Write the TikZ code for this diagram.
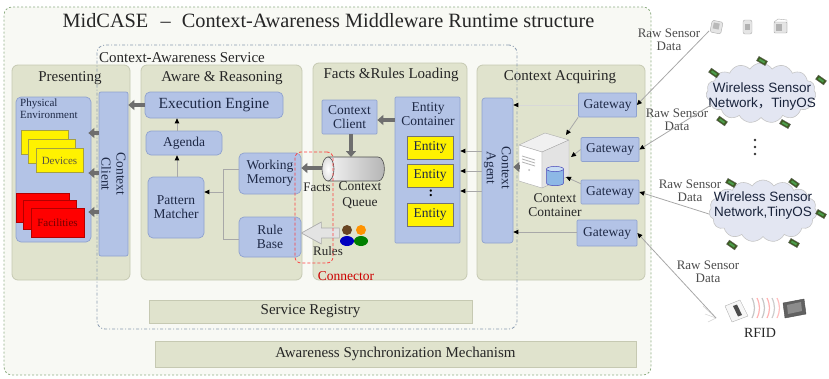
\documentclass[tikz,border=0pt]{standalone}
\usepackage{fontspec}
\setmainfont{Liberation Serif}
\newfontfamily\sansf{Liberation Sans}
\newfontfamily\cjk{Noto Sans CJK SC}
\usetikzlibrary{arrows.meta,shapes.geometric,shapes.symbols,calc}

\definecolor{panelfill}{HTML}{E0E3CD}
\definecolor{paneldraw}{HTML}{C6C9B2}
\definecolor{boxfill}{HTML}{B3C3E6}
\definecolor{boxdraw}{HTML}{8FA2CE}
\definecolor{boxtext}{HTML}{1E2946}
\definecolor{arrowgray}{HTML}{6E6E6E}
\definecolor{linegray}{HTML}{A8A8A8}
\definecolor{outerdash}{HTML}{8FAE84}
\definecolor{innerdash}{HTML}{8C9DB2}
\definecolor{bgfill}{HTML}{F8F9F4}
\definecolor{cloudfill}{HTML}{E3E6F2}
\definecolor{motegreen}{HTML}{3F5B22}
\definecolor{darktext}{HTML}{262626}
\definecolor{dbblue}{HTML}{8DB8E6}
\definecolor{dbtop}{HTML}{C9DDF3}

\tikzset{
  fnt/.style 2 args={font=\fontsize{#1}{#2}\selectfont},
  panel/.style={draw=paneldraw, fill=panelfill, rounded corners=6pt, line width=0.8pt, inner sep=0pt},
  ptitle/.style={fnt={15}{17}, text=darktext, inner sep=0pt},
  bluebox/.style={draw=boxdraw, fill=boxfill, rounded corners=3pt, text=boxtext, align=center,
                  inner sep=0pt, line width=0.7pt, fnt={13.5}{14}},
  gatebox/.style={bluebox, rounded corners=1pt, minimum width=58pt, minimum height=24pt},
  entitybox/.style={draw=black!55, fill=yellow, text=boxtext, inner sep=0pt, line width=0.6pt,
                    minimum width=46pt, minimum height=23pt, fnt={13.5}{14}},
  devbox/.style={draw=yellow!60!black, fill=yellow, line width=0.5pt, inner sep=0pt,
                 minimum width=47pt, minimum height=24pt, text=yellow!25!black, fnt={11}{12}},
  facbox/.style={draw=red!70!black, fill=red, line width=0.5pt, inner sep=0pt,
                 minimum width=53pt, minimum height=29pt, text=red!45!black, fnt={11}{12}},
  regbar/.style={draw=paneldraw, fill=panelfill, line width=0.8pt, inner sep=0pt,
                 text=darktext, fnt={15}{17}},
  rawlbl/.style={align=center, text=black!70, fnt={13}{13}, inner sep=0pt},
  wsntext/.style={align=center, text=boxtext!85!black, font=\sansf\fontsize{13.5}{15}\selectfont, inner sep=0pt},
  fat/.style={draw=arrowgray, line width=3.5pt, -{Triangle[length=6pt,width=10pt]}},
  tarrow/.style={draw=linegray, line width=0.8pt, -{Triangle[length=5pt,width=4.5pt,color=black]}},
  mote/.pic={\filldraw[fill=motegreen, draw=black!60, line width=0.3pt] (-5,-2.5) rectangle (5,2.5);
             \fill[green!45!black!70] (-3,-1) rectangle (3,1);}
}

\begin{document}
\begin{tikzpicture}[x=1pt,y=-1pt]
\useasboundingbox (0,0) rectangle (829,378);

% ---- middleware frame ----
\node[draw=outerdash, dash pattern=on 2pt off 2pt, line width=0.8pt, fill=bgfill, rounded corners=8pt,
      minimum width=647pt, minimum height=368pt, inner sep=0pt] (outer) at (327.5,191) {};
\node[fnt={20.3}{24}, text=darktext, inner sep=0pt] (title) at (328.5,21)
  {MidCASE\hspace{0.6em}--\hspace{0.55em}Context-Awareness Middleware Runtime structure};

% ---- layer panels ----
\node[panel, minimum width=118pt, minimum height=215pt] (pPres) at (71,172.5) {};
\node[panel, minimum width=161pt, minimum height=215pt] (pAware) at (221.5,172.5) {};
\node[panel, minimum width=154pt, minimum height=217pt] (pFacts) at (390,171.5) {};
\node[panel, minimum width=168pt, minimum height=215pt] (pAcq) at (561,172.5) {};
\node[ptitle] (tPres) at (70,78) {Presenting};
\node[ptitle] (tAware) at (222,78) {Aware \& Reasoning};
\node[ptitle] (tFacts) at (391,75) {Facts \&Rules Loading};
\node[ptitle] (tAcq) at (560,77) {Context Acquiring};

% ---- common services ----
\node[regbar, minimum width=323pt, minimum height=23pt] (sreg) at (310.5,311.5) {Service Registry};
\node[regbar, minimum width=481pt, minimum height=26pt] (asm) at (395.5,354) {Awareness Synchronization Mechanism};

% ---- context-awareness service boundary ----
\node[draw=innerdash, dash pattern=on 3pt off 2pt on 1pt off 2pt, line width=0.8pt, rounded corners=8pt,
      minimum width=420pt, minimum height=284pt, inner sep=0pt] (cas) at (307,187) {};
\node[anchor=west, fnt={15}{17}, text=darktext, inner sep=0pt] (castitle) at (99,58) {Context-Awareness Service};

% ---- Presenting ----
\node[bluebox, rounded corners=5pt, minimum width=75pt, minimum height=145pt] (penv) at (53.5,169.5) {};
\node[anchor=north west, align=left, fnt={11}{12}, text=boxtext, inner sep=0pt] (penvlbl) at (20,99) {Physical\\Environment};
\node[devbox] (dev1) at (44.5,142) {};
\node[devbox] (dev2) at (52,151) {};
\node[devbox] (dev3) at (59.5,160.5) {Devices};
\node[facbox] (fac1) at (43,207.5) {};
\node[facbox] (fac2) at (50,215) {};
\node[facbox] (fac3) at (57.5,222.5) {Facilities};
\node[bluebox, rounded corners=2pt, minimum width=29pt, minimum height=164pt] (ccP) at (113.5,174) {};
\node[rotate=-90, align=center, text=boxtext, fnt={13.5}{15}, inner sep=0pt] (ccPlbl) at (ccP) {Context\\Client};

% ---- Aware & Reasoning ----
\node[bluebox, rounded corners=5pt, minimum width=138pt, minimum height=26pt, fnt={15.5}{17}] (ee) at (214,105) {Execution Engine};
\node[bluebox, rounded corners=5pt, minimum width=76pt, minimum height=24pt] (agenda) at (184,143) {Agenda};
\node[bluebox, rounded corners=5pt, minimum width=56pt, minimum height=61pt] (pm) at (176,207.5) {Pattern\\Matcher};
\node[bluebox, rounded corners=5pt, minimum width=62pt, minimum height=41pt] (wm) at (270,173.5) {Working\\Memory};
\node[bluebox, rounded corners=5pt, minimum width=62pt, minimum height=40pt] (rb) at (270,237) {Rule\\Base};

% ---- Facts & Rules Loading ----
\node[bluebox, rounded corners=1pt, minimum width=55pt, minimum height=34pt] (cc2) at (349.5,117) {Context\\Client};
\node[bluebox, rounded corners=1pt, minimum width=65pt, minimum height=146pt] (ec) at (427.5,170) {};
\node[align=center, text=boxtext, fnt={13.5}{14}, inner sep=0pt] (eclbl) at (428,114.5) {Entity\\Container};
\node[entitybox] (ent1) at (430,147.5) {Entity};
\node[entitybox] (ent2) at (430,175.5) {Entity};
\node[fnt={14}{14}, inner sep=0pt] (edots) at (431,193.5) {\textbf{:}};
\node[entitybox] (ent3) at (430,214.5) {Entity};
% context queue: a horizontal cylinder, open face on the left
\node[inner sep=0pt, minimum width=62pt, minimum height=24pt] (queue) at (353,169) {};
\shade[left color=gray!10, right color=gray!60, draw=gray!60!black, line width=0.6pt]
  (328,157) -- (378,157) .. controls (386.5,157) and (386.5,181) .. (378,181) -- (328,181) -- cycle;
\shade[inner color=white, outer color=gray!25, draw=gray!60!black, line width=0.6pt] (328,169) ellipse (6 and 12);
\node[text=darktext, fnt={13}{14}, inner sep=0pt] (factslbl) at (317,187) {Facts};
\node[align=center, text=darktext, fnt={13.5}{16}, inner sep=0pt] (queuelbl) at (360,195) {Context\\Queue};
\node[text=darktext, fnt={13}{14}, inner sep=0pt] (ruleslbl) at (328,251) {Rules};
% knowledge engineers supplying the rules
\node[inner sep=0pt, minimum width=32pt, minimum height=22pt] (people) at (355,235) {};
\fill[green!50!black] (361,241) ellipse (7 and 5);
\fill[orange!85!yellow] (361,230) circle (5);
\fill[blue!75!black] (347,241) ellipse (7 and 5);
\fill[brown!55!black] (347,230) circle (5);

% ---- Context Acquiring ----
\node[bluebox, rounded corners=3pt, minimum width=31pt, minimum height=145pt] (ca) at (497.5,170.5) {};
\node[rotate=-90, align=center, text=boxtext, fnt={13.5}{15}, inner sep=0pt] (calbl) at (497.5,168) {Context\\Agent};
\node[gatebox] (g1) at (607.5,105) {Gateway};
\node[gatebox] (g2) at (610,149.5) {Gateway};
\node[gatebox] (g3) at (610,192) {Gateway};
\node[gatebox, minimum width=60pt, minimum height=26pt] (g4) at (607,233) {Gateway};
% context container: server with its store
\node[inner sep=0pt, minimum width=50pt, minimum height=58pt] (server) at (544,159) {};
\filldraw[draw=gray!65, fill=gray!12, line join=round] (519,145) -- (545,133) -- (569,140) -- (542,152) -- cycle;
\filldraw[draw=gray!65, fill=white, line join=round] (519,145) -- (542,152) -- (542,188) -- (519,181) -- cycle;
\filldraw[draw=gray!65, fill=gray!22, line join=round] (542,152) -- (569,140) -- (569,176) -- (542,188) -- cycle;
\foreach \k in {0,1,2} \draw[gray!60, line width=0.8pt] (522,156+\k*3) -- (535,160+\k*3);
\fill[gray!55] (529,170) circle (1);
\node[inner sep=0pt, minimum width=17pt, minimum height=18pt] (db) at (555,176) {};
\filldraw[fill=dbblue, draw=blue!45!gray, line width=0.5pt]
  (546.5,169) -- (546.5,183) .. controls (546.5,186.5) and (563.5,186.5) .. (563.5,183) -- (563.5,169) -- cycle;
\filldraw[fill=dbtop, draw=blue!45!gray, line width=0.5pt] (555,169) ellipse (8.5 and 2.6);
\node[align=center, text=darktext, fnt={13.5}{14}, inner sep=0pt] (srvlbl) at (555,205) {Context\\Container};
\coordinate (srvTop) at (566,135);
\coordinate (srvSide) at (571,157);
\coordinate (dbIn) at (566,177);

% ---- internal connectors ----
\draw[fat] (ee.west) -- (ee.west -| ccP.east);
\foreach \yy in {133,173,212} \draw[fat] (ccP.west |- 0,\yy) -- ($(penv.east |- 0,\yy)+(-3,0)$);
\draw[tarrow] (agenda.north -| 177,0) -- (ee.south -| 177,0);
\draw[tarrow] (pm.north -| 177,0) -- (agenda.south -| 177,0);
\draw[linegray, line width=0.8pt] (wm.west |- 0,169) -- (223,169) -- (223,239) -- (rb.west |- 0,239);
\coordinate (merge) at (223,192);
\draw[tarrow] (merge) -- (merge -| pm.east);
\draw[fat] (ec.west |- 0,120) -- (cc2.east |- 0,120);
\draw[fat] (cc2.south -| 351,0) -- (351,157);
\draw[fat] (queue.west |- 0,168) -- (wm.east |- 0,168);
\draw[draw=gray!65, fill=gray!22, line join=round, line width=0.7pt]
  (rb.east |- 0,233) -- ++(20,-11) -- ++(0,6) -- ++(18,0) -- ++(0,10) -- ++(-18,0) -- ++(0,6) -- cycle;
\foreach \yy in {151,171,191} \draw[tarrow] (ca.west |- 0,\yy) -- (ec.east |- 0,\yy);
\draw[tarrow, draw=linegray!45] (g1.west) -- (g1.west -| ca.east);
\draw[tarrow] (g4.west |- 0,232) -- (ca.east |- 0,232);
\draw[tarrow] (g1.south west) -- (srvTop);
\draw[tarrow] (g2.west) -- (srvSide);
\draw[tarrow] ($(g3.north west)+(0,4)$) -- (dbIn);
\draw[fat] (server.west |- 0,167) -- (ca.east |- 0,167);

% ---- connector boundary ----
\node[draw=red!75, dash pattern=on 3pt off 2pt, rounded corners=6pt, line width=0.8pt,
      minimum width=38pt, minimum height=111pt, inner sep=0pt] (conn) at (314,207.5) {};
\node[text=red!80!black, fnt={13.5}{14}, inner sep=0pt] (connlbl) at (346,276) {Connector};

% ---- sensing side ----
% sensor devices
\node[inner sep=0pt, minimum width=78pt, minimum height=14pt] (sensors) at (749,27) {};
\filldraw[fill=gray!20, draw=gray!65, rounded corners=1.5pt, rotate around={-12:(716,27)}] (711,21) rectangle (722,33);
\fill[gray!55, rotate around={-12:(716,27)}] (713,23) rectangle (719,29);
\filldraw[fill=gray!20, draw=gray!65, rounded corners=2pt] (743,20) rectangle (752,34);
\fill[gray!60] (745,24) rectangle (750,30);
\filldraw[fill=gray!20, draw=gray!65, rounded corners=1pt] (774,22) rectangle (787,33);
\fill[gray!60] (776,24) rectangle (782,31);
\draw[gray!65] (774,22) -- (778,19) -- (787,20) -- (787,33);
\coordinate (s1) at (709,31);

% wireless sensor networks
\node[cloud, cloud puffs=15, cloud puff arc=115, aspect=1.8, draw=gray!45, fill=cloudfill, line width=0.6pt,
      minimum width=110pt, minimum height=60pt, inner sep=0pt] (wsn1) at (761,93) {};
\node[wsntext] (wsn1lbl) at (762,96.5) {Wireless Sensor\\Network{\cjk ，}TinyOS};
\node[cloud, cloud puffs=15, cloud puff arc=115, aspect=1.8, draw=gray!45, fill=cloudfill, line width=0.6pt,
      minimum width=108pt, minimum height=62pt, inner sep=0pt] (wsn2) at (763,211) {};
\node[wsntext] (wsn2lbl) at (763,206) {Wireless Sensor\\Network,TinyOS};
\foreach \mx/\my/\ma in {762/61/-30, 714/73/-35, 821/80/-35, 722/121/-35, 785/124/-30,
                         731/183/-30, 794/183/-35, 821/214/-30, 732/245/-35, 794/243/-30}
  \pic[rotate=\ma] at (\mx,\my) {mote};
\foreach \yy in {140,147,154} \fill[black!80] (755,\yy) circle (1.4);
\coordinate (c1in) at (711,105);
\coordinate (c2in) at (709,214);

% RFID reader and tag
\node[inner sep=0pt, minimum width=85pt, minimum height=24pt] (rfid) at (765,310) {};
\filldraw[fill=gray!6, draw=gray!60, line join=round] (725,306) -- (740,300) -- (748,316) -- (732,322) -- cycle;
\fill[black!70] (733,306) -- (737,304.5) -- (742,315) -- (738,316.5) -- cycle;
\foreach \i/\c in {0/gray!45, 1/red!30, 2/gray!45, 3/red!30, 4/gray!40, 5/red!25}
  \draw[line width=1.2pt, \c] (752+\i*5,298) to[bend left=25] (752+\i*5,318);
\filldraw[fill=black!62, draw=black!70, line join=round] (783,303) -- (804,299) -- (806,314) -- (785,318) -- cycle;
\fill[black!45] (787,305) -- (801,302) -- (802,311) -- (788,314) -- cycle;
\node[text=darktext, fnt={14}{14}, inner sep=0pt] (rfidlbl) at (760,333) {RFID};
\coordinate (rfidin) at (716,318);
\foreach \fx/\fy in {703/306, 705/314, 708/322} \draw[gray!35, line width=0.5pt] (\fx,\fy) -- (rfidin);

% raw data labels
\node[rawlbl] (raw1) at (669,39.5) {Raw Sensor\\Data};
\node[rawlbl] (raw2) at (677,119.5) {Raw Sensor\\Data};
\node[rawlbl] (raw3) at (690,191) {Raw Sensor\\Data};
\node[rawlbl] (raw4) at (708,272) {Raw Sensor\\Data};

% raw data feeds into the gateways
\draw[tarrow] (s1) -- (g1.east);
\draw[tarrow] (c1in) -- (g2.east);
\draw[tarrow] (c2in) -- (g3.east);
\draw[tarrow] (rfidin) -- (g4.east);
\end{tikzpicture}
\end{document}
